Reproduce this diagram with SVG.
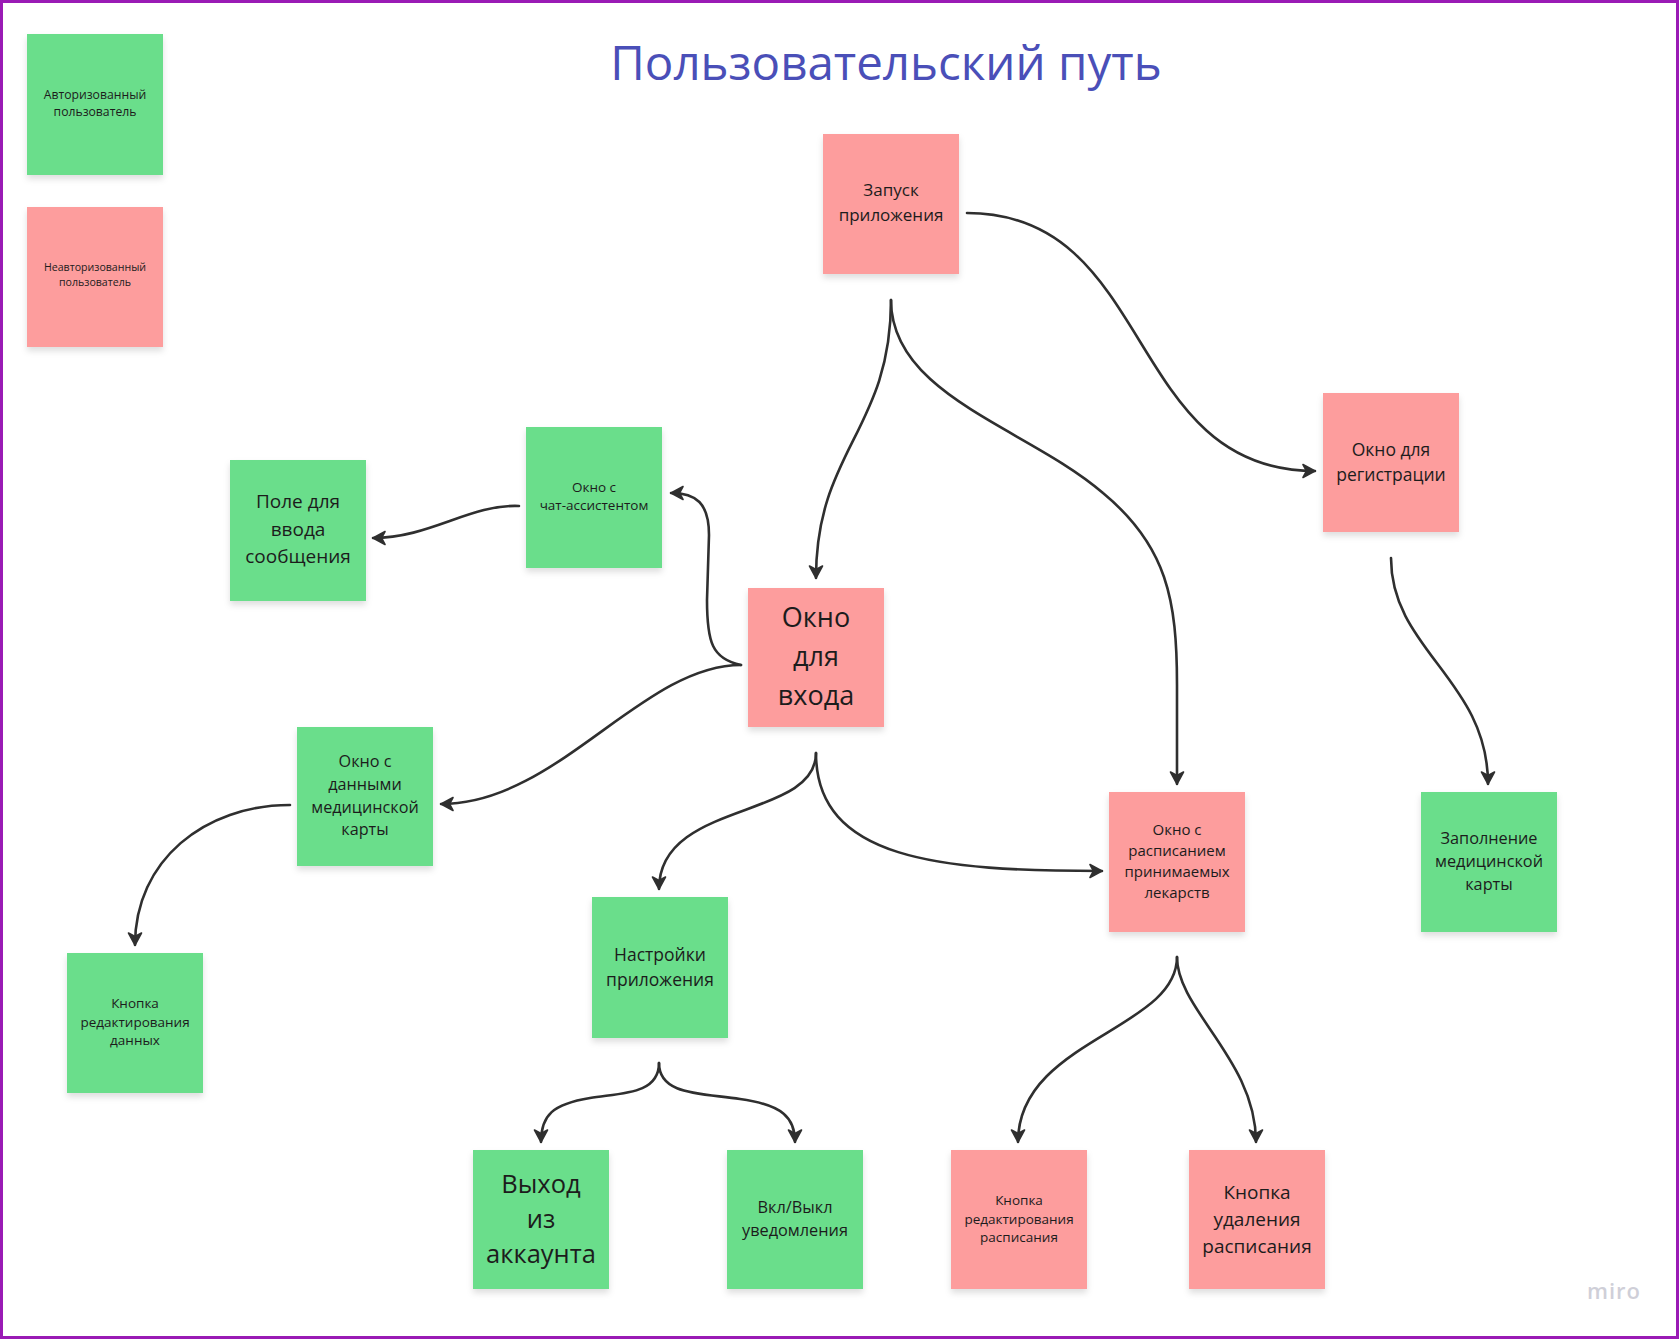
<svg xmlns="http://www.w3.org/2000/svg" width="1679" height="1339" viewBox="0 0 1679 1339">
  <defs>
    <filter id="shadow" x="-10%" y="-10%" width="120%" height="125%">
      <feDropShadow dx="0" dy="4" stdDeviation="3" flood-color="#000" flood-opacity="0.13"/>
    </filter>
    <marker id="arrow" markerUnits="userSpaceOnUse" markerWidth="18" markerHeight="18" viewBox="-15 -9 18 18" refX="0" refY="0" orient="auto">
      <path d="M0,0 L-12,-6.5 L-8.5,0 L-12,6.5 Z" fill="#2f2f2f" stroke="#2f2f2f" stroke-width="1.6" stroke-linejoin="round"/>
    </marker>
    <style>
      .green { fill: #6bde8b; filter: url(#shadow); }
      .pink { fill: #fd9d9d; filter: url(#shadow); }
      .t { font-family: "Open Sans", "Noto Sans", "DejaVu Sans", sans-serif; fill: #1c1c1c; text-anchor: middle; }
      .link { fill: none; stroke: #2f2f2f; stroke-width: 2.6; stroke-linecap: round; marker-end: url(#arrow); }
      .title { font-family: "Open Sans", "Noto Sans", sans-serif; font-size: 47.5px; fill: #4a4fb8; text-anchor: middle; }
      .brand { font-family: "Open Sans", "Noto Sans", sans-serif; font-size: 22px; font-weight: 600; fill: #cfcfd8; letter-spacing: 1px; }
    </style>
  </defs>

  <rect x="0" y="0" width="1679" height="1339" fill="#ffffff"/>
  <rect x="1.5" y="1.5" width="1676" height="1336" fill="none" stroke="#9a1bb5" stroke-width="3"/>

  <text class="title" x="886" y="80">Пользовательский путь</text>

  <!-- legend -->
  <g id="legend-auth">
    <rect class="green" x="27" y="34" width="136" height="141"/>
    <text class="t" font-size="12.2" x="95"><tspan x="95" y="99">Авторизованный</tspan><tspan x="95" y="116">пользователь</tspan></text>
  </g>
  <g id="legend-guest">
    <rect class="pink" x="27" y="207" width="136" height="140"/>
    <text class="t" font-size="10.6" x="95"><tspan x="95" y="271">Неавторизованный</tspan><tspan x="95" y="286">пользователь</tspan></text>
  </g>

  <!-- connectors -->
  <g id="connectors">
    <path class="link" d="M967,213 C1156,213 1124,471 1315,471"/>
    <path class="link" d="M891,300 C891,430 816,450 816,578"/>
    <path class="link" d="M891,300 C891,396 1028,428 1103,493 C1167,546 1177,600 1177,685 L1177,784"/>
    <path class="link" d="M741,665 C712,659 707,642 707,600 L709,535 C709,503 696,493 671,493"/>
    <path class="link" d="M519,506 C470,504 430,538 373,538"/>
    <path class="link" d="M741,665 C642,665 557,804 441,804"/>
    <path class="link" d="M290,805 C205,805 135,860 135,945"/>
    <path class="link" d="M816,753 C816,820 659,800 659,889"/>
    <path class="link" d="M816,753 C816,860 940,871 1102,871"/>
    <path class="link" d="M659,1063 C659,1095 620,1093 590,1098 C553,1104 541,1115 541,1142"/>
    <path class="link" d="M659,1063 C659,1095 700,1093 740,1099 C783,1105 795,1118 795,1142"/>
    <path class="link" d="M1177,957 C1177,1030 1018,1040 1018,1142"/>
    <path class="link" d="M1177,957 C1177,1010 1256,1060 1256,1142"/>
    <path class="link" d="M1391,558 C1391,650 1488,680 1488,784"/>
  </g>

  <!-- nodes -->
  <g id="app-start">
    <rect class="pink" x="823" y="134" width="136" height="140"/>
    <text class="t" font-size="17"><tspan x="891" y="196">Запуск</tspan><tspan x="891" y="221">приложения</tspan></text>
  </g>
  <g id="signup-window">
    <rect class="pink" x="1323" y="393" width="136" height="139"/>
    <text class="t" font-size="17.5"><tspan x="1391" y="456">Окно для</tspan><tspan x="1391" y="481">регистрации</tspan></text>
  </g>
  <g id="chat-window">
    <rect class="green" x="526" y="427" width="136" height="141"/>
    <text class="t" font-size="13.5"><tspan x="594" y="492">Окно с</tspan><tspan x="594" y="510">чат-ассистентом</tspan></text>
  </g>
  <g id="message-field">
    <rect class="green" x="230" y="460" width="136" height="141"/>
    <text class="t" font-size="19"><tspan x="298" y="508">Поле для</tspan><tspan x="298" y="536">ввода</tspan><tspan x="298" y="563">сообщения</tspan></text>
  </g>
  <g id="login-window">
    <rect class="pink" x="748" y="588" width="136" height="139"/>
    <text class="t" font-size="27"><tspan x="816" y="627">Окно</tspan><tspan x="816" y="666">для</tspan><tspan x="816" y="705">входа</tspan></text>
  </g>
  <g id="medical-data-window">
    <rect class="green" x="297" y="727" width="136" height="139"/>
    <text class="t" font-size="16.2"><tspan x="365" y="767">Окно с</tspan><tspan x="365" y="790">данными</tspan><tspan x="365" y="813">медицинской</tspan><tspan x="365" y="835">карты</tspan></text>
  </g>
  <g id="schedule-window">
    <rect class="pink" x="1109" y="792" width="136" height="140"/>
    <text class="t" font-size="15"><tspan x="1177" y="835">Окно с</tspan><tspan x="1177" y="856">расписанием</tspan><tspan x="1177" y="877">принимаемых</tspan><tspan x="1177" y="898">лекарств</tspan></text>
  </g>
  <g id="medical-card-form">
    <rect class="green" x="1421" y="792" width="136" height="140"/>
    <text class="t" font-size="16.3"><tspan x="1489" y="844">Заполнение</tspan><tspan x="1489" y="867">медицинской</tspan><tspan x="1489" y="890">карты</tspan></text>
  </g>
  <g id="edit-data-button">
    <rect class="green" x="67" y="953" width="136" height="140"/>
    <text class="t" font-size="13.5"><tspan x="135" y="1008">Кнопка</tspan><tspan x="135" y="1027">редактирования</tspan><tspan x="135" y="1045">данных</tspan></text>
  </g>
  <g id="app-settings">
    <rect class="green" x="592" y="897" width="136" height="141"/>
    <text class="t" font-size="17.5"><tspan x="660" y="961">Настройки</tspan><tspan x="660" y="986">приложения</tspan></text>
  </g>
  <g id="logout">
    <rect class="green" x="473" y="1150" width="136" height="139"/>
    <text class="t" font-size="25.5"><tspan x="541" y="1193">Выход</tspan><tspan x="541" y="1228">из</tspan><tspan x="541" y="1263">аккаунта</tspan></text>
  </g>
  <g id="notifications-toggle">
    <rect class="green" x="727" y="1150" width="136" height="139"/>
    <text class="t" font-size="16.3"><tspan x="795" y="1213">Вкл/Выкл</tspan><tspan x="795" y="1236">уведомления</tspan></text>
  </g>
  <g id="edit-schedule-button">
    <rect class="pink" x="951" y="1150" width="136" height="139"/>
    <text class="t" font-size="13.5"><tspan x="1019" y="1205">Кнопка</tspan><tspan x="1019" y="1224">редактирования</tspan><tspan x="1019" y="1242">расписания</tspan></text>
  </g>
  <g id="delete-schedule-button">
    <rect class="pink" x="1189" y="1150" width="136" height="139"/>
    <text class="t" font-size="19"><tspan x="1257" y="1199">Кнопка</tspan><tspan x="1257" y="1226">удаления</tspan><tspan x="1257" y="1253">расписания</tspan></text>
  </g>

  <text class="brand" x="1587" y="1299">miro</text>
</svg>
